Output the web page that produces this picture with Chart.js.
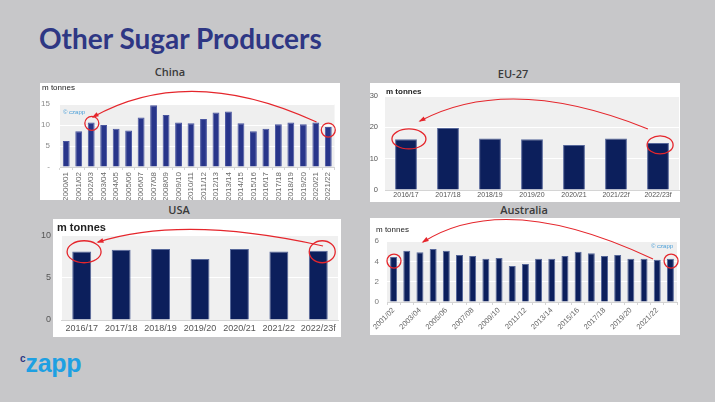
<!DOCTYPE html>
<html><head><meta charset="utf-8">
<script src="https://cdn.jsdelivr.net/npm/chart.js@4.4.1/dist/chart.umd.min.js"></script>
<style>
html,body{margin:0;padding:0;}
body{width:715px;height:402px;background:#c7c7c9;position:relative;overflow:hidden;font-family:"Open Sans",sans-serif;}
.box{position:absolute;background:#fff;}
canvas{position:absolute;}
#title{position:absolute;left:39px;top:24px;font-family:Lato,sans-serif;font-weight:700;font-size:28px;line-height:28px;color:#2e3784;white-space:nowrap;}
.pt{position:absolute;font-family:"Open Sans",sans-serif;font-weight:600;font-size:11px;line-height:12px;color:#3a3a3a;transform:translate(-50%,-50%);white-space:nowrap;}
.unit{position:absolute;font-family:"Liberation Sans",Arial,sans-serif;color:#222;white-space:nowrap;line-height:1;}
.wm{position:absolute;font-family:"Liberation Sans",Arial,sans-serif;font-size:6px;line-height:6px;color:#4a9fd8;white-space:nowrap;}
#logo{position:absolute;left:20px;top:349px;font-family:"Liberation Sans",Arial,sans-serif;font-weight:700;white-space:nowrap;}
#logo .c{font-size:10px;color:#2d3783;position:relative;top:-10px;}
#logo .z{font-size:25px;color:#1ea0e2;letter-spacing:-0.3px;}
</style></head>
<body>
<div id="title">Other Sugar Producers</div>

<div class="pt" style="left:170px;top:72px;">China</div>
<div class="pt" style="left:513px;top:74px;">EU-27</div>
<div class="pt" style="left:179px;top:210px;">USA</div>
<div class="pt" style="left:524px;top:210px;">Australia</div>

<div class="box" style="left:40px;top:83px;width:300px;height:117px;"></div>
<div class="box" style="left:370px;top:83px;width:310px;height:119px;"></div>
<div class="box" style="left:53px;top:219px;width:288px;height:118px;"></div>
<div class="box" style="left:370px;top:218px;width:310px;height:117px;"></div>

<canvas id="cChina" width="300" height="117" style="left:40px;top:83px;"></canvas>
<canvas id="cEU" width="310" height="119" style="left:370px;top:83px;"></canvas>
<canvas id="cUSA" width="303" height="118" style="left:38px;top:219px;"></canvas>
<canvas id="cAus" width="310" height="117" style="left:370px;top:218px;"></canvas>

<div class="unit" style="left:42px;top:84px;font-size:8px;">m tonnes</div>
<div class="unit" style="left:386px;top:88px;font-size:8px;font-weight:700;">m tonnes</div>
<div class="unit" style="left:57px;top:222px;font-size:11px;font-weight:700;">m tonnes</div>
<div class="unit" style="left:376px;top:226px;font-size:8px;">m tonnes</div>

<div class="wm" style="left:63px;top:109px;">© czapp</div>
<div class="wm" style="left:651px;top:243px;">© czapp</div>

<div id="logo"><span class="c">c</span><span class="z">zapp</span></div>

<script>
// ---------- DATA ----------
const chinaLabels = ["2000/01","2001/02","2002/03","2003/04","2004/05","2005/06","2006/07","2007/08","2008/09","2009/10","2010/11","2011/12","2012/13","2013/14","2014/15","2015/16","2016/17","2017/18","2018/19","2019/20","2020/21","2021/22"];
const chinaValues = [6.2, 8.5, 10.6, 10.0, 9.1, 8.7, 11.8, 14.7, 12.4, 10.6, 10.4, 11.4, 13.0, 13.2, 10.4, 8.5, 9.1, 10.2, 10.6, 10.2, 10.6, 9.5];

const euLabels = ["2016/17","2017/18","2018/19","2019/20","2020/21","2021/22f","2022/23f"];
const euValues = [16.2, 19.8, 16.4, 16.2, 14.4, 16.4, 15.0];

const usaLabels = ["2016/17","2017/18","2018/19","2019/20","2020/21","2021/22","2022/23f"];
const usaValues = [8.1, 8.3, 8.4, 7.2, 8.4, 8.1, 8.2];

const ausLabels = ["2001/02","2002/03","2003/04","2004/05","2005/06","2006/07","2007/08","2008/09","2009/10","2010/11","2011/12","2012/13","2013/14","2014/15","2015/16","2016/17","2017/18","2018/19","2019/20","2020/21","2021/22","2022/23"];
const ausValues = [4.43, 5.05, 4.89, 5.21, 5.05, 4.62, 4.52, 4.26, 4.33, 3.54, 3.74, 4.26, 4.26, 4.52, 4.95, 4.79, 4.52, 4.62, 4.26, 4.26, 4.16, 4.26];

const chinaTicks = {max: 15, step: 5};
const euTicks = {max: 30, step: 10};
const usaTicks = {max: 10, step: 5};
const ausTicks = {max: 6, step: 2};

// ---------- PLUGINS ----------
const bgPlugin = {
  id: 'bg',
  beforeDraw(chart, args, o) {
    const {ctx, chartArea: a} = chart;
    ctx.save();
    ctx.fillStyle = o.color || '#efefef';
    ctx.fillRect(a.left, a.top, a.right - a.left, a.bottom - a.top);
    ctx.restore();
  }
};
const annoPlugin = {
  id: 'anno',
  afterDraw(chart, args, o) {
    if (!o || !o.arc) return;
    const xs = chart.scales.x, ys = chart.scales.y, n = chart.data.labels.length;
    const px = i => xs.left + (i + 0.5) * (xs.right - xs.left) / n;
    const py = v => ys.getPixelForValue(v);
    const ctx = chart.ctx;
    ctx.save();
    ctx.strokeStyle = '#e5262c'; ctx.fillStyle = '#e5262c';
    ctx.lineWidth = 1.3;
    for (const e of o.ellipses) {
      ctx.beginPath();
      ctx.ellipse(px(e.i), py(e.v), e.rx, e.ry, 0, 0, Math.PI * 2);
      ctx.stroke();
    }
    const S = [px(o.arc.from[0]), py(o.arc.from[1])];
    const P = [px(o.arc.peak[0]), py(o.arc.peak[1])];
    const E = [px(o.arc.to[0]), py(o.arc.to[1])];
    const C = [2 * P[0] - 0.5 * (S[0] + E[0]), 2 * P[1] - 0.5 * (S[1] + E[1])];
    ctx.lineWidth = 1.1;
    ctx.beginPath(); ctx.moveTo(S[0], S[1]); ctx.quadraticCurveTo(C[0], C[1], E[0], E[1]); ctx.stroke();
    const ang = Math.atan2(E[1] - C[1], E[0] - C[0]);
    const L = 6;
    ctx.beginPath();
    ctx.moveTo(E[0] + 1.5 * Math.cos(ang), E[1] + 1.5 * Math.sin(ang));
    ctx.lineTo(E[0] - L * Math.cos(ang - 0.4), E[1] - L * Math.sin(ang - 0.4));
    ctx.lineTo(E[0] - L * Math.cos(ang + 0.4), E[1] - L * Math.sin(ang + 0.4));
    ctx.closePath(); ctx.fill();
    ctx.restore();
  }
};

function build(id, labels, values, ticksCfg, c) {
  return new Chart(document.getElementById(id), {
    type: 'bar',
    data: {labels: labels, datasets: [{data: values, backgroundColor: c.bar, borderColor: c.barBorder, borderWidth: 1, borderSkipped: 'bottom', barPercentage: c.barPct, categoryPercentage: 1}]},
    options: {
      responsive: false, animation: false, devicePixelRatio: 1,
      layout: {padding: c.pad},
      plugins: {legend: {display: false}, tooltip: {enabled: false}, bg: {color: c.plotBg}, anno: c.anno},
      scales: {
        x: {
          grid: {display: true, drawOnChartArea: false, drawTicks: true, tickLength: c.xTickLen, color: '#d4d4d4'},
          border: {display: true, color: '#d4d4d4'},
          ticks: {font: c.xFont, color: c.xColor, maxRotation: c.rot, minRotation: c.rot, autoSkip: false, padding: c.xPad,
            callback: (v, i) => (c.skip && i % 2 === 1) ? '' : labels[i]},
          afterFit: s => { s.height = c.xH; }
        },
        y: {
          min: 0, max: ticksCfg.max,
          grid: {color: '#ffffff', drawTicks: false, lineWidth: 1},
          border: {display: false},
          ticks: {stepSize: ticksCfg.step, font: c.yFont, color: c.yColor, padding: c.yPad,
            callback: v => (c.dashZero && v === 0) ? '-' : v},
          afterFit: s => { s.width = c.yW; }
        }
      }
    },
    plugins: [bgPlugin, annoPlugin]
  });
}

const tickFam = '"Liberation Sans", Arial, sans-serif';

build('cChina', chinaLabels, chinaValues, chinaTicks, {
  bar: '#28358a', barBorder: '#4a56a0', barPct: 0.55, plotBg: '#efefef',
  pad: {left: 0, right: 5, top: 21, bottom: 0}, yW: 20, xH: 33,
  xFont: {family: tickFam, size: 8}, xColor: '#6a6a6a', rot: 90, xPad: 2, xTickLen: 3,
  yFont: {family: tickFam, size: 8}, yColor: '#8a8a8a', yPad: 10, dashZero: true,
  anno: {arc: {from: [20.06, 10.7], peak: [10.46, 18.0], to: [2.14, 11.9]},
         ellipses: [{i: 2.05, v: 10.4, rx: 7, ry: 7}, {i: 21.0, v: 8.8, rx: 7, ry: 7}]}
});

build('cEU', euLabels, euValues, euTicks, {
  bar: '#0c1f5c', barBorder: '#56679a', barPct: 0.52, plotBg: '#f0f0f0',
  pad: {left: 0, right: 1, top: 13, bottom: 0}, yW: 15, xH: 12,
  xFont: {family: tickFam, size: 7}, xColor: '#555555', rot: 0, xPad: 1, xTickLen: 0,
  yFont: {family: tickFam, size: 7.5}, yColor: '#555555', yPad: 7,
  anno: {arc: {from: [5.76, 19.5], peak: [2.76, 29.0], to: [0.33, 22.0]},
         ellipses: [{i: 0.07, v: 16.3, rx: 17, ry: 10}, {i: 6.05, v: 14.4, rx: 13, ry: 9}]}
});

build('cUSA', usaLabels, usaValues, usaTicks, {
  bar: '#0c1f5c', barBorder: '#56679a', barPct: 0.48, plotBg: '#f0f0f0',
  pad: {left: 0, right: 3, top: 13, bottom: 0}, yW: 24, xH: 17,
  xFont: {family: tickFam, size: 9}, xColor: '#555555', rot: 0, xPad: 3, xTickLen: 0,
  yFont: {family: tickFam, size: 9}, yColor: '#555555', yPad: 11,
  anno: {arc: {from: [6.12, 8.75], peak: [2.93, 10.7], to: [0.41, 9.2]},
         ellipses: [{i: 0.06, v: 8.07, rx: 17, ry: 11}, {i: 6.1, v: 8.07, rx: 13, ry: 11}]}
});

build('cAus', ausLabels, ausValues, ausTicks, {
  bar: '#0c1f5c', barBorder: '#56679a', barPct: 0.53, plotBg: '#efefef',
  pad: {left: 0, right: 3, top: 23, bottom: 0}, yW: 17, xH: 33,
  xFont: {family: tickFam, size: 7.5}, xColor: '#666666', rot: 45, xPad: 1, xTickLen: 3,
  yFont: {family: tickFam, size: 8}, yColor: '#777777', yPad: 8, skip: true,
  anno: {arc: {from: [19.68, 4.23], peak: [9.74, 8.06], to: [2.23, 5.9]},
         ellipses: [{i: 0.03, v: 4.03, rx: 7, ry: 7}, {i: 21.05, v: 4.03, rx: 7, ry: 7}]}
});
</script>
</body></html>
